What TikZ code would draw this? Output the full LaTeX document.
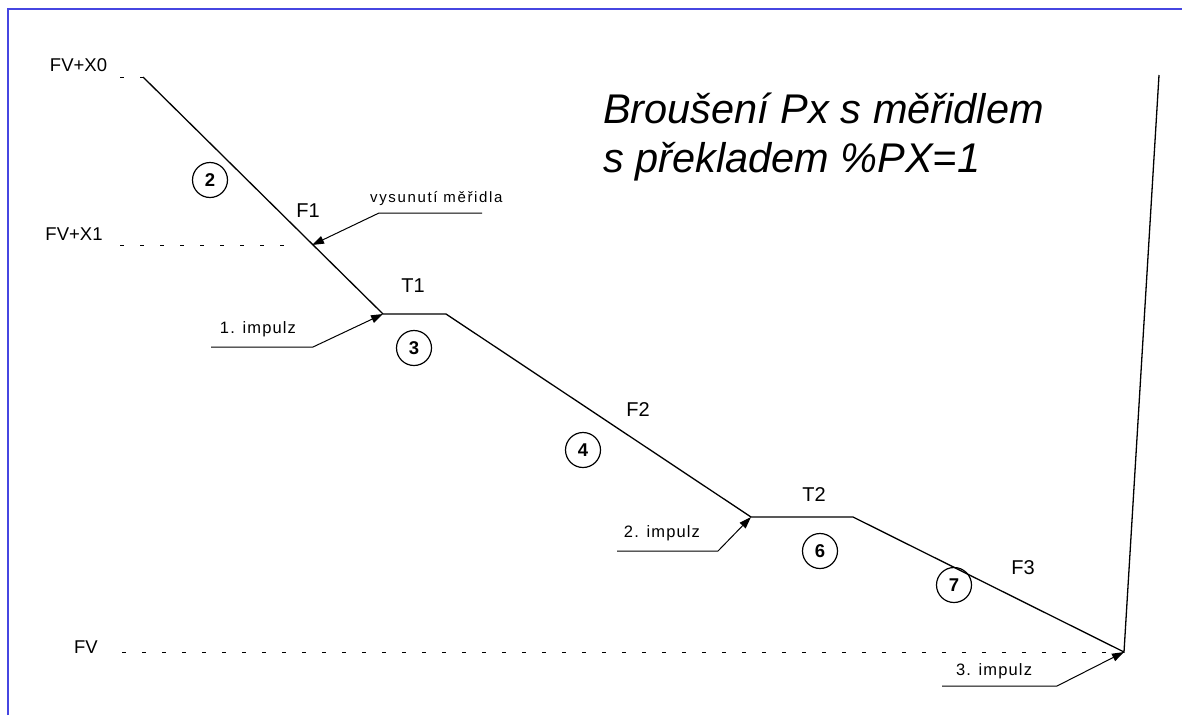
\documentclass[tikz,border=0pt]{standalone}
\usepackage{fontspec}
\setmainfont{Liberation Sans}
\newfontfamily\spacedfont[LetterSpace=7]{Liberation Sans}
\newfontfamily\widefont[LetterSpace=11]{Liberation Sans}
\usetikzlibrary{arrows.meta}
\definecolor{frameblue}{RGB}{70,70,225}
\tikzset{
  profile/.style={line width=1.3pt, line join=miter},
  level/.style={line width=1pt, dash pattern=on 4pt off 16pt},
  leader/.style={line width=1pt, -{Triangle[length=12pt,width=8pt]}},
  lvl/.style={font=\fontsize{18.5}{22}\selectfont, inner sep=0pt},
  seg/.style={font=\fontsize{20}{24}\selectfont, inner sep=0pt},
  pulse/.style={font=\spacedfont\fontsize{16.5}{20}\selectfont, inner sep=0pt},
  step num/.style={circle, draw, line width=1.2pt, minimum size=35pt, inner sep=0pt,
    font=\bfseries\fontsize{18.5}{20}\selectfont},
  heading/.style={font=\itshape\fontsize{41.5}{48}\selectfont, inner sep=0pt, anchor=base west}
}
\begin{document}
\begin{tikzpicture}[x=1pt,y=-1pt]
\useasboundingbox (0,0) rectangle (1182,715);
% frame
\draw[frameblue, line width=1.5pt] (8,715) -- (8,9) -- (1182,9);

% corner points of the feed profile
\coordinate (p0) at (143,77);
\coordinate (p1) at (383,314);
\coordinate (p2) at (446,314);
\coordinate (p3) at (751,517);
\coordinate (p4) at (853,517);
\coordinate (p5) at (1124,652);
\coordinate (p6) at (1159,75);
\coordinate (gauge) at (312,245);

% level lines
\coordinate (l0) at (120,77);
\coordinate (l1) at (120,245);
\coordinate (l1e) at (290,245);
\coordinate (lf) at (122,652);
\draw[level] (l0) -- (p0);
\draw[level] (l1) -- (l1e);
\draw[level] (lf) -- (p5);

\node[lvl] (x0) at (78.5,65.5) {FV+X0};
\node[lvl] (x1) at (74,234.5) {FV+X1};
\node[lvl] (fv) at (86,647.5) {FV};

% profile
\draw[profile] (p0) -- (p1) -- (p2) -- (p3) -- (p4) -- (p5) -- (p6);

% segment labels
\node[seg] (f1) at (308,211) {F1};
\node[seg] (t1) at (413,286) {T1};
\node[seg] (f2) at (638,410) {F2};
\node[seg] (t2) at (814,495) {T2};
\node[seg] (f3) at (1023,568) {F3};

% step numbers
\node[step num] (s2) at (210,180) {2};
\node[step num] (s3) at (414,348) {3};
\node[step num] (s4) at (583,450) {4};
\node[step num] (s6) at (820,551) {6};
\node[step num] (s7) at (954,585) {7};

% gauge release
\node[font=\widefont\fontsize{15}{18}\selectfont, inner sep=0pt, anchor=base west] (vys) at (370,202) {vysunutí měřidla};
\coordinate (va) at (482,213);
\coordinate (vb) at (379,213);
\draw[leader] (va) -- (vb) -- (gauge);

% impulses
\node[pulse] (i1) at (258,329) {1. impulz};
\coordinate (i1a) at (211,347);
\coordinate (i1b) at (313,347);
\draw[leader] (i1a) -- (i1b) -- (p1);

\node[pulse] (i2) at (662,533) {2. impulz};
\coordinate (i2a) at (617,551);
\coordinate (i2b) at (718,551);
\draw[leader] (i2a) -- (i2b) -- (p3);

\node[pulse] (i3) at (994,671) {3. impulz};
\coordinate (i3a) at (942,686);
\coordinate (i3b) at (1057,686);
\draw[leader] (i3a) -- (i3b) -- (p5);

% heading
\node[heading] (h1) at (603,123) {Broušení Px s měřidlem};
\node[heading] (h2) at (603,172) {s překladem \%PX=1};
\end{tikzpicture}
\end{document}
